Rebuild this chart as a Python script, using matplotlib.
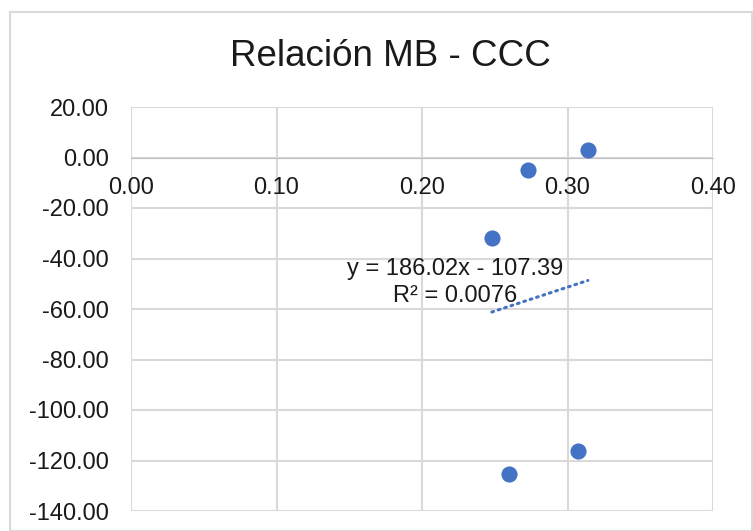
import numpy as np
import matplotlib.pyplot as plt
from matplotlib.patches import Rectangle

# datos
mb = [0.248, 0.273, 0.314, 0.260, 0.307]
ccc = [-31.9, -4.9, 3.0, -125.3, -116.2]
x_ticks = [0.0, 0.1, 0.2, 0.3, 0.4]
y_ticks = [20, 0, -20, -40, -60, -80, -100, -120, -140]

azul = '#4472C4'
gris = '#D9D9D9'
texto = '#1A1A1A'
plt.rcParams['font.family'] = ['Liberation Sans', 'DejaVu Sans']

fig = plt.figure(figsize=(7.53, 5.31), dpi=100)
ax = fig.add_axes([131 / 753, 1 - 511 / 531, (713 - 131) / 753, (511 - 107) / 531])

# marco del area del grafico
fig.patches.append(Rectangle((10 / 753, 0), 742 / 753, 1 - 12 / 531, transform=fig.transFigure,
                             fill=False, edgecolor=gris, linewidth=1.5))

ax.scatter(mb, ccc, s=135, color=azul, zorder=3, linewidths=0)

# linea de tendencia lineal
m, b = np.polyfit(mb, ccc, 1)
xt = np.array([min(mb), max(mb)])
ax.plot(xt, m * xt + b, color=azul, linestyle=(0, (0.6, 1.6)), linewidth=2.2,
        dash_capstyle='round', zorder=2)
ax.text(0.2227, -49.5, 'y = 186.02x - 107.39\nR² = 0.0076', ha='center', va='center',
        fontsize=17, linespacing=1.25, color=texto)

ax.set_xlim(0, 0.4)
ax.set_ylim(-140, 20)
ax.set_xticks(x_ticks)
ax.set_yticks(y_ticks)
ax.xaxis.set_major_formatter(plt.FuncFormatter(lambda v, p: f'{v:.2f}'))
ax.yaxis.set_major_formatter(plt.FuncFormatter(lambda v, p: f'{v:.2f}'))
ax.grid(True, color=gris, linewidth=1.5)
ax.set_axisbelow(True)
for s in ['top', 'right', 'left']:
    ax.spines[s].set_visible(False)
ax.spines['bottom'].set_position(('data', 0))
ax.spines['bottom'].set_color('#BFBFBF')
ax.tick_params(length=0, labelsize=17, colors=texto)
ax.tick_params(axis='x', pad=14)
ax.tick_params(axis='y', pad=16)

fig.text(390 / 753, 1 - 57 / 531, 'Relación MB - CCC', ha='center', va='center',
         fontsize=26.5, color=texto)

fig.savefig('out.png', dpi=100)
